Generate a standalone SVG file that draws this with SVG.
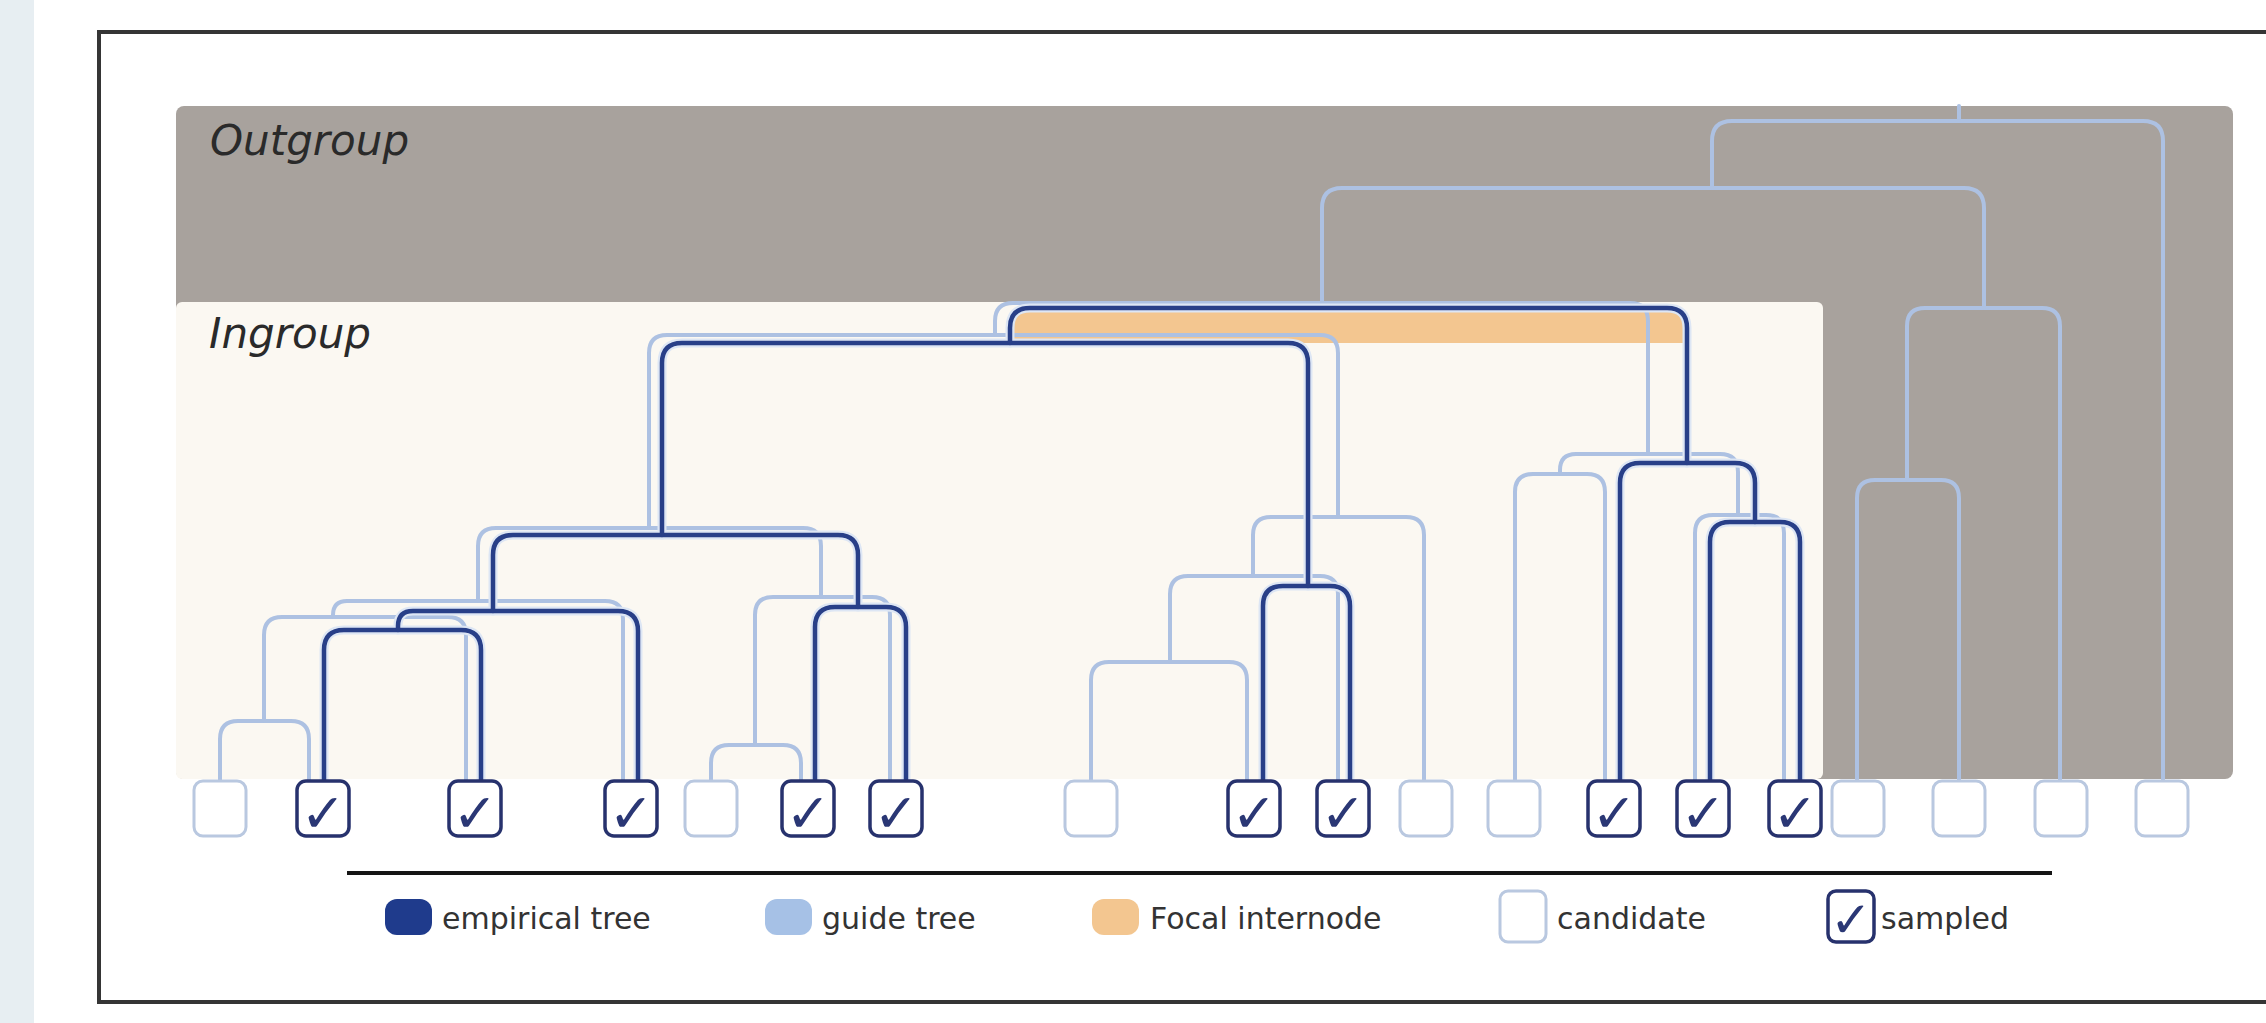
<svg xmlns="http://www.w3.org/2000/svg" width="2266" height="1023" viewBox="0 0 2266 1023">
  <defs>
    <style>
      .region-title { font-family: "DejaVu Sans", "Liberation Sans", sans-serif; font-style: italic; font-size: 42px; fill: #2a2a2a; }
      .legend-text { font-family: "DejaVu Sans", "Liberation Sans", sans-serif; font-size: 30px; fill: #333333; }
      .guide { fill: none; stroke: #adc1e2; stroke-width: 4; stroke-linecap: round; stroke-linejoin: round; }
      .emp-halo { fill: none; stroke: #dde6f4; stroke-width: 9; stroke-linecap: round; stroke-linejoin: round; }
      .emp { fill: none; stroke: #283f88; stroke-width: 4.5; stroke-linecap: round; stroke-linejoin: round; }
      .cand { fill: #ffffff; stroke: #b9c8e0; stroke-width: 3; }
      .samp { fill: #ffffff; stroke: #27326d; stroke-width: 3.5; }
      .chk { font-family: "DejaVu Sans", sans-serif; font-size: 54px; fill: #2a3775; text-anchor: middle; }
    </style>
  </defs>

  <!-- page background -->
  <rect x="0" y="0" width="2266" height="1023" fill="#ffffff"/>
  <rect x="0" y="0" width="34" height="1023" fill="#e7eef2"/>
  <rect x="99" y="32" width="2220" height="970" fill="#ffffff" stroke="#353535" stroke-width="4"/>

  <!-- clade regions -->
  <g id="outgroup">
    <rect x="176" y="106" width="2057" height="673" rx="8" fill="#a8a29d"/>
    <text class="region-title" x="210" y="155">Outgroup</text>
  </g>
  <g id="ingroup">
    <rect x="176" y="302" width="1647" height="477" rx="6" fill="#fbf8f2"/>
    <text class="region-title" x="209" y="348">Ingroup</text>
  </g>

  <!-- highlighted focal internode -->
  <g id="focal-internode">
    <path d="M1010,343 V328 Q1010,308 1030,308 H1667 Q1687,308 1687,328 V343 Z" fill="#f3c690"/>
  </g>

  <g id="connectors">
    <!-- guide tree -->
    <g id="guide-tree">
      <path class="guide" d="M220,782 V739 Q220,721 238,721 H291 Q309,721 309,739 V782"/>
      <path class="guide" d="M264,721 V635 Q264,617 282,617 H448 Q466,617 466,635 V782"/>
      <path class="guide" d="M333,617 V615 Q333,601 347,601 H605 Q623,601 623,619 V782"/>
      <path class="guide" d="M711,782 V763 Q711,745 729,745 H783 Q801,745 801,763 V782"/>
      <path class="guide" d="M755,745 V615 Q755,597 773,597 H872 Q890,597 890,615 V782"/>
      <path class="guide" d="M478,601 V546 Q478,528 496,528 H803 Q821,528 821,546 V597"/>
      <path class="guide" d="M1091,782 V680 Q1091,662 1109,662 H1229 Q1247,662 1247,680 V782"/>
      <path class="guide" d="M1170,662 V594 Q1170,576 1188,576 H1320 Q1338,576 1338,594 V782"/>
      <path class="guide" d="M1253,576 V535 Q1253,517 1271,517 H1406 Q1424,517 1424,535 V782"/>
      <path class="guide" d="M649,528 V353 Q649,335 667,335 H1320 Q1338,335 1338,353 V517"/>
      <path class="guide" d="M1515,782 V492 Q1515,474 1533,474 H1587 Q1605,474 1605,492 V782"/>
      <path class="guide" d="M1695,782 V533 Q1695,515 1713,515 H1766 Q1784,515 1784,533 V782"/>
      <path class="guide" d="M1560,474 V470 Q1560,454 1576,454 H1720 Q1738,454 1738,472 V515"/>
      <path class="guide" d="M995,335 V321 Q995,303 1013,303 H1630 Q1648,303 1648,321 V454"/>
      <path class="guide" d="M1857,782 V498 Q1857,480 1875,480 H1941 Q1959,480 1959,498 V782"/>
      <path class="guide" d="M1907,480 V326 Q1907,308 1925,308 H2042 Q2060,308 2060,326 V782"/>
      <path class="guide" d="M1322,303 V208 Q1322,188 1342,188 H1964 Q1984,188 1984,208 V308"/>
      <path class="guide" d="M1712,188 V141 Q1712,121 1732,121 H2143 Q2163,121 2163,141 V782"/>
      <path class="guide" d="M1959,121 V106"/>
    </g>

    <!-- empirical tree -->
    <g id="empirical-tree">
      <g id="empirical-halo">
        <path class="emp-halo" d="M324,782 V650 Q324,630 344,630 H461 Q481,630 481,650 V782"/>
        <path class="emp-halo" d="M398,630 V626 Q398,611 413,611 H618 Q638,611 638,631 V782"/>
        <path class="emp-halo" d="M815,782 V627 Q815,607 835,607 H886 Q906,607 906,627 V782"/>
        <path class="emp-halo" d="M493,611 V555 Q493,535 513,535 H838 Q858,535 858,555 V607"/>
        <path class="emp-halo" d="M1263,782 V606 Q1263,586 1283,586 H1330 Q1350,586 1350,606 V782"/>
        <path class="emp-halo" d="M662,535 V363 Q662,343 682,343 H1288 Q1308,343 1308,363 V586"/>
        <path class="emp-halo" d="M1710,782 V542 Q1710,522 1730,522 H1780 Q1800,522 1800,542 V782"/>
        <path class="emp-halo" d="M1620,782 V483 Q1620,463 1640,463 H1735 Q1755,463 1755,483 V522"/>
        <path class="emp-halo" d="M1010,343 V328 Q1010,308 1030,308 H1667 Q1687,308 1687,328 V463"/>
      </g>
      <path class="emp" d="M324,782 V650 Q324,630 344,630 H461 Q481,630 481,650 V782"/>
      <path class="emp" d="M398,630 V626 Q398,611 413,611 H618 Q638,611 638,631 V782"/>
      <path class="emp" d="M815,782 V627 Q815,607 835,607 H886 Q906,607 906,627 V782"/>
      <path class="emp" d="M493,611 V555 Q493,535 513,535 H838 Q858,535 858,555 V607"/>
      <path class="emp" d="M1263,782 V606 Q1263,586 1283,586 H1330 Q1350,586 1350,606 V782"/>
      <path class="emp" d="M662,535 V363 Q662,343 682,343 H1288 Q1308,343 1308,363 V586"/>
      <path class="emp" d="M1710,782 V542 Q1710,522 1730,522 H1780 Q1800,522 1800,542 V782"/>
      <path class="emp" d="M1620,782 V483 Q1620,463 1640,463 H1735 Q1755,463 1755,483 V522"/>
      <path class="emp" d="M1010,343 V328 Q1010,308 1030,308 H1667 Q1687,308 1687,328 V463"/>
    </g>
  </g>

  <!-- tips: candidate and sampled taxa -->
  <g id="tips">
    <g id="tip-1"><rect class="cand" x="194" y="781" width="52" height="55" rx="9"/></g>
    <g id="tip-2"><rect class="samp" x="297" y="781" width="52" height="55" rx="9"/><text class="chk" x="323" y="832">✓</text></g>
    <g id="tip-3"><rect class="samp" x="449" y="781" width="52" height="55" rx="9"/><text class="chk" x="475" y="832">✓</text></g>
    <g id="tip-4"><rect class="samp" x="605" y="781" width="52" height="55" rx="9"/><text class="chk" x="631" y="832">✓</text></g>
    <g id="tip-5"><rect class="cand" x="685" y="781" width="52" height="55" rx="9"/></g>
    <g id="tip-6"><rect class="samp" x="782" y="781" width="52" height="55" rx="9"/><text class="chk" x="808" y="832">✓</text></g>
    <g id="tip-7"><rect class="samp" x="870" y="781" width="52" height="55" rx="9"/><text class="chk" x="896" y="832">✓</text></g>
    <g id="tip-8"><rect class="cand" x="1065" y="781" width="52" height="55" rx="9"/></g>
    <g id="tip-9"><rect class="samp" x="1228" y="781" width="52" height="55" rx="9"/><text class="chk" x="1254" y="832">✓</text></g>
    <g id="tip-10"><rect class="samp" x="1317" y="781" width="52" height="55" rx="9"/><text class="chk" x="1343" y="832">✓</text></g>
    <g id="tip-11"><rect class="cand" x="1400" y="781" width="52" height="55" rx="9"/></g>
    <g id="tip-12"><rect class="cand" x="1488" y="781" width="52" height="55" rx="9"/></g>
    <g id="tip-13"><rect class="samp" x="1588" y="781" width="52" height="55" rx="9"/><text class="chk" x="1614" y="832">✓</text></g>
    <g id="tip-14"><rect class="samp" x="1677" y="781" width="52" height="55" rx="9"/><text class="chk" x="1703" y="832">✓</text></g>
    <g id="tip-15"><rect class="samp" x="1769" y="781" width="52" height="55" rx="9"/><text class="chk" x="1795" y="832">✓</text></g>
    <g id="tip-16"><rect class="cand" x="1832" y="781" width="52" height="55" rx="9"/></g>
    <g id="tip-17"><rect class="cand" x="1933" y="781" width="52" height="55" rx="9"/></g>
    <g id="tip-18"><rect class="cand" x="2035" y="781" width="52" height="55" rx="9"/></g>
    <g id="tip-19"><rect class="cand" x="2136" y="781" width="52" height="55" rx="9"/></g>
  </g>

  <!-- legend -->
  <g id="legend">
    <line x1="347" y1="873" x2="2052" y2="873" stroke="#151515" stroke-width="4"/>
    <g id="legend-empirical">
      <rect x="385" y="899" width="47" height="36" rx="12" fill="#1f3b8c"/>
      <text class="legend-text" x="442" y="929">empirical tree</text>
    </g>
    <g id="legend-guide">
      <rect x="765" y="899" width="47" height="36" rx="12" fill="#a6c1e6"/>
      <text class="legend-text" x="822" y="929">guide tree</text>
    </g>
    <g id="legend-focal">
      <rect x="1092" y="899" width="47" height="36" rx="12" fill="#f3c690"/>
      <text class="legend-text" x="1150" y="929">Focal internode</text>
    </g>
    <g id="legend-candidate">
      <rect class="cand" x="1500" y="891" width="46" height="51" rx="8"/>
      <text class="legend-text" x="1557" y="929">candidate</text>
    </g>
    <g id="legend-sampled">
      <rect class="samp" x="1828" y="891" width="46" height="51" rx="8"/>
      <text class="chk" x="1851" y="937" style="font-size:50px">✓</text>
      <text class="legend-text" x="1881" y="929">sampled</text>
    </g>
  </g>
</svg>
